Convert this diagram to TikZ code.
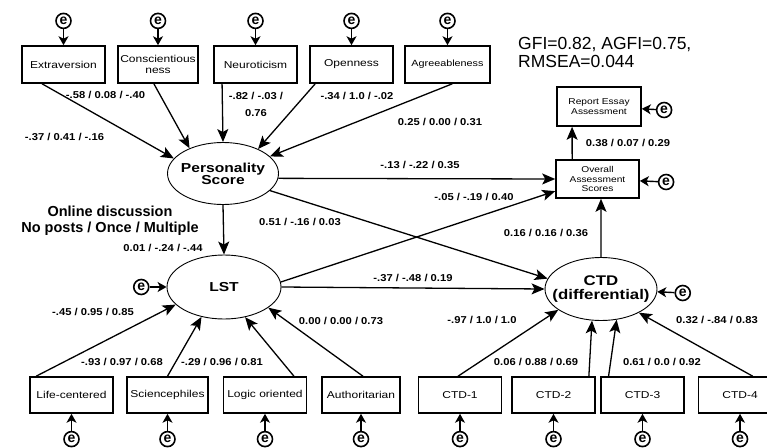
\documentclass[tikz,border=0pt]{standalone}
\usepackage{fontspec}
\setmainfont{Liberation Sans}
\newfontfamily\boxfont[FakeStretch=1.2]{Liberation Sans}
\newfontfamily\coeffont[FakeStretch=1.12]{Liberation Sans}
\usetikzlibrary{shapes,arrows.meta,positioning}

\begin{document}
\begin{tikzpicture}[x=1pt,y=-1pt]
  \tikzset{obs node/.style={rectangle, draw, line width=1.6pt,
		text centered, align=center, minimum width=83pt, minimum height=37pt,
		inner sep=1pt, font=\boxfont\fontsize{10}{11}\selectfont}, }
\tikzset{lat node/.style={ellipse, draw, line width=0.9pt,
		text centered, align=center, inner sep=-10pt,
		font=\boxfont\bfseries\fontsize{13}{12}\selectfont}, }
\tikzset{err node/.style={circle, draw, line width=1.6pt,
		minimum size=15pt, inner sep=0pt, font=\bfseries\fontsize{14}{14}\selectfont}, }
\tikzset{coef node/.style={inner sep=0pt, align=center,
		font=\coeffont\bfseries\fontsize{10}{17}\selectfont}, }
\tikzset{linea/.style={-{Stealth[length=13pt,width=11pt,inset=3pt]}, line width=1.3pt},}
\tikzset{linea e/.style={-{Stealth[length=9pt,width=10pt,inset=2.5pt]}, line width=1.4pt},}
    \useasboundingbox[fill=white] (0,0) rectangle (767,447);
    \clip (0,0) rectangle (767,447);
    \node[obs node] (1) at (63.5,64.5) {Extraversion};
    \node[obs node, minimum width=80pt] (2) at (158,64.5) {Conscientious\\ness};
    \node[obs node] (3) at (255.5,64.5) {Neuroticism};
    \node[obs node] (4) at (351.5,64.5) {Openness};
    \node[obs node, minimum width=85pt,
      font=\boxfont\fontsize{9}{11}\selectfont] (5) at (447.5,64.5) {Agreeableness};
    %
    \node[lat node, minimum width=111pt, minimum height=62pt] (6) at (223,173.5) {Personality\\Score};
    \node[lat node, minimum width=114pt, minimum height=64pt] (7) at (224,287) {LST};
    \node[lat node, minimum width=112pt, minimum height=63pt,
      font=\boxfont\bfseries\fontsize{14}{14}\selectfont] (8) at (601,289) {CTD\\(differential)};
    \node[obs node, minimum height=38pt,
      font=\boxfont\fontsize{8.5}{9.5}\selectfont] (9) at (597.5,179) {Overall\\Assessment\\Scores};
    \node[obs node, minimum width=84pt, minimum height=39pt,
      font=\boxfont\fontsize{8.5}{10}\selectfont] (10) at (599,106.5) {Report Essay\\Assessment};
    %
    \node[obs node, minimum height=36pt] (11) at (71.5,395) {Life-centered};
    \node[obs node, minimum width=81pt, minimum height=36pt] (12) at (167.5,395) {Sciencephiles};
    \node[obs node, minimum height=36pt] (13) at (265,395) {Logic oriented};
    \node[obs node, minimum width=78pt, minimum height=36pt] (14) at (361,395) {Authoritarian};
    \node[obs node, minimum height=36pt] (15) at (460,395) {CTD-1};
    \node[obs node, minimum height=36pt] (16) at (553.5,395) {CTD-2};
    \node[obs node, minimum height=36pt] (17) at (642.5,395) {CTD-3};
    \node[obs node, minimum height=36pt] (18) at (740,395) {CTD-4};
    %
\foreach \x in {1,...,5}
  \node[err node, above=16pt of \x] (e\x) {e};
\foreach \x in {11,...,18}
  \node[err node, below=17pt of \x] (e\x) {e};
    \node[err node, left=17pt of 7] (e7) {e};
    \node[err node, right=17pt of 8, yshift=-4pt] (e8) {e};
    \node[err node, right=18pt of 9, yshift=-3pt] (e9) {e};
    \node[err node, right=14pt of 10, yshift=-3.5pt] (e10) {e};
    %
    \node[coef node] (c1) at (105.5,95) {-.58 / 0.08 / -.40};
    \node[coef node] (c2) at (64.5,137) {-.37 / 0.41 / -.16};
    \node[coef node] (c3) at (256,104.5) {-.82 / -.03 /\\0.76};
    \node[coef node] (c4) at (357,96) {-.34 / 1.0 / -.02};
    \node[coef node] (c5) at (440,122) {0.25 / 0.00 / 0.31};
    \node[coef node] (c6) at (628,143) {0.38 / 0.07 / 0.29};
    \node[coef node] (c7) at (420,165) {-.13 / -.22 / 0.35};
    \node[coef node] (c8) at (474,197) {-.05 / -.19 / 0.40};
    \node[coef node] (c9) at (300,222) {0.51 / -.16 / 0.03};
    \node[coef node] (c10) at (546,233) {0.16 / 0.16 / 0.36};
    \node[coef node] (c11) at (163,248) {0.01 / -.24 / -.44};
    \node[coef node] (c12) at (413,278) {-.37 / -.48 / 0.19};
    \node[coef node] (c13) at (93,312) {-.45 / 0.95 / 0.85};
    \node[coef node] (c14) at (122,362) {-.93 / 0.97 / 0.68};
    \node[coef node] (c15) at (222,362) {-.29 / 0.96 / 0.81};
    \node[coef node] (c16) at (341,321) {0.00 / 0.00 / 0.73};
    \node[coef node] (c17) at (482,320) {-.97 / 1.0 / 1.0};
    \node[coef node] (c18) at (536,362) {0.06 / 0.88 / 0.69};
    \node[coef node] (c19) at (662,362) {0.61 / 0.0 / 0.92};
    \node[coef node] (c20) at (717,320) {0.32 / -.84 / 0.83};
    %
    \node[align=center, font=\bfseries\fontsize{14.5}{16}\selectfont] (grp) at (110,221)
      {Online discussion\\No posts / Once / Multiple};
    \node[anchor=west, align=left, inner sep=0pt,
      font=\fontsize{17.5}{18}\selectfont] (fit) at (518,52) {GFI=0.82, AGFI=0.75,\\RMSEA=0.044};
%
\foreach \x /\y in{1.222/6.163,2.258/6.143,3.210/6.90,4.208/6.35,5.284/6.20,
  6.355/9.180,6.340/8.169,6.270/7.90,7.5/9.196,7.0/8.180,8.90/9.280,9.142/10.217,
  11.152/7.200,12.90/7.233,13.33/7.305,14.84/7.335,
  15.96/8.206,16.28/8.254,17.151/8.297,18.56/8.328}
  \path[linea] (\x) edge node {} (\y);
\foreach \x in {1,2,3,4,5,7,8,9,10,11,12,13,14,15,16,17,18}
  \path[linea e] (e\x) edge node {} (\x);
%
\end{tikzpicture}
\end{document}
